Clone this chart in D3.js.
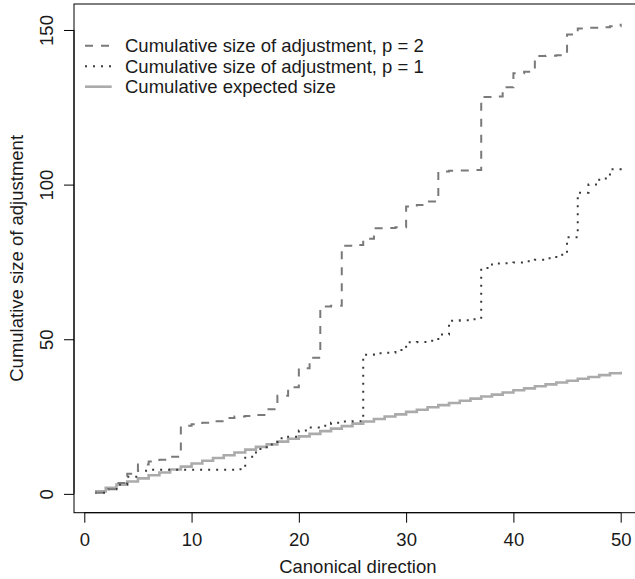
<!DOCTYPE html>
<html>
<head>
<meta charset="utf-8">
<script src="https://cdn.jsdelivr.net/npm/d3@7"></script>
<style>
    body { margin: 0; background: #fff; }
    text { font-family: "Liberation Sans", Arial, sans-serif; }
</style>
</head>
<body>
<svg id="chart" width="635" height="579"></svg>
<script>
    // canonical directions 1..50
    var directions = d3.range(1, 51);

    // cumulative size of adjustment, p = 2 (dashed)
    var sizeP2 = [0.4, 1.5, 3.5, 6.5, 9.5, 10.5, 11, 12, 22, 22.5,
        23, 23.5, 24.5, 25, 25.2, 25.5, 27.4, 31.7, 34.5, 40.6,
        44, 60.6, 60.8, 80.2, 80.5, 82.5, 85.9, 86, 86.2, 92.9,
        93.4, 94.5, 104.2, 104.5, 104.6, 104.7, 128.3, 128.5, 131.5, 136,
        136.5, 141.6, 141.7, 141.8, 148.5, 150.5, 150.7, 150.9, 151.2, 152];

    // cumulative size of adjustment, p = 1 (dotted)
    var sizeP1 = [0.4, 1.5, 3, 5.5, 7.5, 7.8, 7.8, 7.8, 7.8, 7.8,
        7.8, 7.8, 7.8, 8, 12, 14.5, 16, 18, 18.5, 20.5,
        21.5, 22, 23, 23.4, 23.5, 45, 45.5, 45.6, 46.5, 49,
        49.1, 49.5, 51.5, 56, 56.1, 56.5, 73, 74.5, 74.6, 74.8,
        75.2, 75.7, 76.2, 77.3, 83, 97.4, 100, 102, 105, 106];

    // cumulative expected size (solid)
    var expected = [0.8, 2.0, 3.0, 4.0, 5.0, 6.0, 6.9, 7.9, 8.8, 9.8,
        10.7, 11.6, 12.5, 13.4, 14.3, 15.2, 16.0, 16.9, 17.8, 18.6,
        19.4, 20.3, 21.1, 21.9, 22.7, 23.4, 24.2, 25.0, 25.7, 26.5,
        27.2, 28.0, 28.7, 29.4, 30.1, 30.8, 31.5, 32.1, 32.8, 33.5,
        34.1, 34.8, 35.4, 36.0, 36.6, 37.2, 37.8, 38.4, 39.0, 39.5];

    var xTicks = [0, 10, 20, 30, 40, 50];
    var yTicks = [0, 50, 100, 150];

    var legendLabels = ["Cumulative size of adjustment, p = 2",
        "Cumulative size of adjustment, p = 1",
        "Cumulative expected size"];

    var fontSize = "18.5px";

    var svg = d3.select("#chart");

    var box = { left: 74, top: 4, right: 641.7, bottom: 512.7 };

    // R style 4% padding around data range
    var x = d3.scaleLinear().domain([-0.96, 51.96]).range([box.left, box.right]);
    var y = d3.scaleLinear().domain([-6.09, 158.4]).range([box.bottom, box.top]);

    var series = [
        { values: sizeP2, color: "#7a7a7a", width: 2, dash: "8,8" },
        { values: sizeP1, color: "#3a3a3a", width: 2, dash: "2,6" },
        { values: expected, color: "#ababab", width: 2.6, dash: null }
    ];

    var line = d3.line()
        .x(function(d){ return x(d[0]); })
        .y(function(d){ return y(d[1]); })
        .curve(d3.curveStepAfter);

    // draw the series, solid one underneath
    series.slice().reverse().forEach(function(s){
        svg.append("path")
            .datum(directions.map(function(dir, i){ return [dir, s.values[i]]; }))
            .attr("fill", "none")
            .attr("stroke", s.color)
            .attr("stroke-width", s.width)
            .attr("stroke-dasharray", s.dash)
            .attr("d", line);
    });

    // plot box
    svg.append("rect")
        .attr("x", box.left)
        .attr("y", box.top)
        .attr("width", box.right - box.left)
        .attr("height", box.bottom - box.top)
        .attr("fill", "none")
        .attr("stroke", "#000")
        .attr("stroke-width", 1);

    // x axis
    var xAxis = svg.append("g")
        .attr("transform", "translate(0," + box.bottom + ")")
        .call(d3.axisBottom(x).tickValues(xTicks).tickSize(10).tickPadding(10).tickSizeOuter(0));
    xAxis.select(".domain").attr("d", "M" + x(0) + ",0H" + x(50));
    xAxis.selectAll("text").style("font-size", fontSize).attr("fill", "#1a1a1a");

    // y axis, labels rotated like R
    var yAxis = svg.append("g")
        .attr("transform", "translate(" + box.left + ",0)")
        .call(d3.axisLeft(y).tickValues(yTicks).tickSize(10).tickSizeOuter(0));
    yAxis.select(".domain").attr("d", "M0," + y(0) + "V" + y(150));
    yAxis.selectAll(".tick text")
        .attr("x", 0)
        .attr("text-anchor", "middle")
        .attr("transform", "translate(-27,0) rotate(-90)")
        .attr("dy", "0.35em")
        .style("font-size", fontSize)
        .attr("fill", "#1a1a1a");

    // axis titles
    svg.append("text")
        .attr("x", (box.left + box.right) / 2)
        .attr("y", 573)
        .attr("text-anchor", "middle")
        .style("font-size", fontSize)
        .attr("fill", "#1a1a1a")
        .text("Canonical direction");

    svg.append("text")
        .attr("transform", "translate(23," + (box.top + box.bottom) / 2 + ") rotate(-90)")
        .attr("text-anchor", "middle")
        .style("font-size", fontSize)
        .attr("fill", "#1a1a1a")
        .text("Cumulative size of adjustment");

    // legend
    var legend = svg.append("g").attr("transform", "translate(85,45.7)");
    series.forEach(function(s, i){
        var row = legend.append("g").attr("transform", "translate(0," + (i * 20.5) + ")");
        row.append("line")
            .attr("x1", 0).attr("x2", 26.7)
            .attr("y1", 0).attr("y2", 0)
            .attr("stroke", s.color)
            .attr("stroke-width", s.width)
            .attr("stroke-dasharray", s.dash);
        row.append("text")
            .attr("x", 40)
            .attr("y", 0)
            .attr("dy", "0.35em")
            .style("font-size", fontSize)
            .attr("fill", "#1a1a1a")
            .text(legendLabels[i]);
    });
</script>
</body>
</html>
